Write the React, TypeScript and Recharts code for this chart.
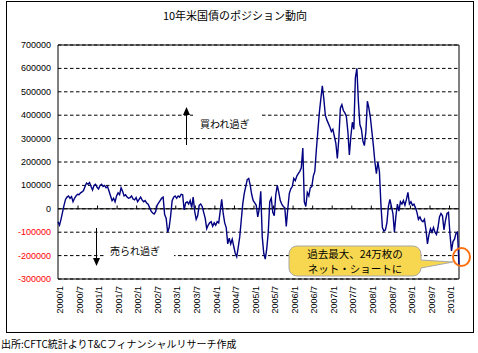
import React from 'react';
import { LineChart, Line, XAxis, YAxis, CartesianGrid, ReferenceLine, ReferenceArea } from 'recharts';

// Net position of 10Y US Treasury futures (CFTC), bi-weekly samples from 2000/1 to 2010/3
const positions = [
  -56000, -70000, -45000, -15000, 15000, 40000, 50000, 55000, 45000, 52000,
  30000, 45000, 55000, 62000, 60000, 68000, 72000, 78000, 95000, 110000,
  105000, 112000, 95000, 80000, 100000, 105000, 92000, 85000, 100000, 105000,
  95000, 100000, 90000, 95000, 75000, 55000, 35000, 45000, 30000, 55000,
  68000, 60000, 90000, 75000, 55000, 60000, 50000, 45000, 48000, 55000,
  42000, 38000, 48000, 30000, 40000, 50000, 38000, 30000, 35000, 25000,
  20000, 5000, -10000, -18000, -22000, -12000, 15000, 25000, 35000, 45000,
  50000, -25000, -40000, -100000, -80000, -30000, 35000, 50000, 55000, 45000,
  55000, 50000, 62000, 60000, -5000, 25000, 30000, 20000, 35000, 5000,
  50000, -10000, -45000, -30000, 15000, 20000, 10000, -15000, -40000, -85000,
  -70000, -60000, -55000, -75000, -60000, -70000, -55000, -60000, -10000, 40000,
  -20000, -60000, -80000, -150000, -125000, -150000, -130000, -160000, -190000, -205000,
  -165000, -120000, -50000, 20000, 65000, 95000, 125000, 130000, 100000, 60000,
  35000, 25000, 15000, -35000, 0, 75000, -120000, -190000, -215000, -170000,
  -100000, 30000, 45000, -15000, -30000, 60000, 100000, 70000, 35000, 20000,
  10000, 5000, -75000, 0, 65000, 85000, 95000, 130000, 120000, 140000,
  150000, 160000, 175000, 260000, 30000, 10000, 70000, 55000, 90000, 95000,
  140000, 160000, 250000, 330000, 410000, 470000, 525000, 470000, 400000, 380000,
  365000, 350000, 330000, 340000, 310000, 280000, 215000, 300000, 430000, 445000,
  420000, 410000, 395000, 330000, 230000, 310000, 370000, 340000, 560000, 600000,
  460000, 360000, 340000, 290000, 270000, 330000, 460000, 430000, 390000, 330000,
  270000, 200000, 150000, 200000, 160000, 20000, -80000, -95000, -90000, -60000,
  10000, 40000, 10000, -20000, -100000, -30000, 20000, -10000, 30000, 20000,
  35000, 15000, 40000, 70000, 20000, 30000, 15000, 20000, 5000, -15000,
  -45000, -35000, -50000, -55000, -45000, -90000, -150000, -110000, -85000, -100000,
  -80000, -100000, -110000, -80000, -35000, -20000, -30000, -90000, -50000, -20000,
  -15000, -110000, -180000, -140000, -130000, -105000, -100000, -240000,
];

const halfYearLabels = [
  '2000/1', '2000/7', '2001/1', '2001/7', '2002/1', '2002/7', '2003/1', '2003/7',
  '2004/1', '2004/7', '2005/1', '2005/7', '2006/1', '2006/7', '2007/1', '2007/7',
  '2008/1', '2008/7', '2009/1', '2009/7', '2010/1',
];

const yTicks = [-300000, -200000, -100000, 0, 100000, 200000, 300000, 400000, 500000, 600000, 700000];

const title = '10年米国債のポジション動向';
const overboughtText = '買われ過ぎ';
const oversoldText = '売られ過ぎ';
const calloutLines = ['過去最大、24万枚の', 'ネット・ショートに'];
const sourceText = '出所:CFTC統計よりT&Cフィナンシャルリサーチ作成';

const table = positions.map((v, i) => ({ i, v }));
const lastIndex = positions.length - 1;
const tickPos = halfYearLabels.map((_, k) => 1.3 + k * 13.02);

const NUM_FONT = '"Liberation Sans", Arial, sans-serif';
const JP_FONT = '"Noto Sans CJK JP", "Noto Sans", sans-serif';

const YTick = (props: any) => {
  const { x, y, payload } = props;
  const v = payload.value as number;
  return (
    <text x={x} y={y} textAnchor="end" dominantBaseline="central" fontSize={9}
      fontFamily={NUM_FONT} fill={v < 0 ? '#FF0000' : '#000000'}>
      {String(v)}
    </text>
  );
};

const XTick = (props: any) => {
  const { x, y, index } = props;
  return (
    <text x={x} y={y} dy="0.35em" textAnchor="end" fontSize={9} fontFamily={NUM_FONT}
      fill="#000" transform={`rotate(-90, ${x}, ${y})`}>
      {halfYearLabels[index]}
    </text>
  );
};

export default function App() {
  return (
    <div style={{ position: 'absolute', left: 0, top: 0, width: 478, height: 353, background: '#fff' }}>
      <LineChart width={478} height={353} data={table} margin={{ top: 45, right: 19, bottom: 34, left: 8 }}>
        <CartesianGrid horizontal vertical={false} stroke="#000" strokeDasharray="3.5 2.5" />
        <XAxis type="number" dataKey="i" domain={[0, lastIndex]} ticks={tickPos} interval={0}
          axisLine={false} tickLine={false} tickSize={0} tickMargin={7} height={40} tick={<XTick />} />
        <YAxis type="number" domain={[-300000, 700000]} ticks={yTicks} interval={0}
          axisLine={false} tickLine={false} tickSize={0} tickMargin={7} width={50} tick={<YTick />} />
        <ReferenceArea x1={0} x2={lastIndex} y1={-300000} y2={700000} fill="none" stroke="#000" strokeWidth={1} />
        <ReferenceLine y={0} stroke="#000" strokeWidth={1} />
        {tickPos.slice(1).map((t) => (
          <ReferenceLine key={t} segment={[{ x: t - 1, y: 0 }, { x: t - 1, y: 14000 }]} stroke="#000" />
        ))}
        <Line type="linear" dataKey="v" stroke="#000080" strokeWidth={1.4} dot={false} isAnimationActive={false} />
      </LineChart>
      <svg width={478} height={353} style={{ position: 'absolute', left: 0, top: 0, pointerEvents: 'none' }}>
        <rect x={6.5} y={1.5} width={467} height={331} fill="none" stroke="#000" strokeWidth={1} />
        <text x={235} y={15} textAnchor="middle" dominantBaseline="central" fontSize={11} fontFamily={JP_FONT} fill="#000">{title}</text>
        {/* overbought annotation */}
        <rect x={193} y={108} width={68} height={28} fill="#fff" />
        <line x1={186.5} y1={145} x2={186.5} y2={113} stroke="#000" strokeWidth={1} />
        <polygon points="183,115 190,115 186.5,107" fill="#000" />
        <text x={200} y={123} dominantBaseline="central" fontSize={10} fontFamily={JP_FONT} fill="#000">{overboughtText}</text>
        {/* oversold annotation */}
        <rect x={106} y={240} width={68} height={22} fill="#fff" />
        <line x1={96.5} y1={228} x2={96.5} y2={260} stroke="#000" strokeWidth={1} />
        <polygon points="93,258 100,258 96.5,266" fill="#000" />
        <text x={110} y={250} dominantBaseline="central" fontSize={10} fontFamily={JP_FONT} fill="#000">{oversoldText}</text>
        {/* callout */}
        <path d="M297,246 H413 A8,8 0 0 1 421,254 V260 L453,262 L421,268 A8,8 0 0 1 413,276 H297 A8,8 0 0 1 289,268 V254 A8,8 0 0 1 297,246 Z"
          fill="#F7D750" stroke="#A8A8A8" strokeWidth={1} />
        <text x={355} y={253.5} textAnchor="middle" dominantBaseline="central" fontSize={10.5} fontFamily={JP_FONT} fill="#000">{calloutLines[0]}</text>
        <text x={355} y={268} textAnchor="middle" dominantBaseline="central" fontSize={10.5} fontFamily={JP_FONT} fill="#000">{calloutLines[1]}</text>
        <ellipse cx={461.5} cy={257} rx={8.5} ry={9} fill="none" stroke="#FF6F0F" strokeWidth={2} />
        <text x={1} y={343} dominantBaseline="central" fontSize={10} fontFamily={JP_FONT} fill="#000">{sourceText}</text>
      </svg>
    </div>
  );
}
